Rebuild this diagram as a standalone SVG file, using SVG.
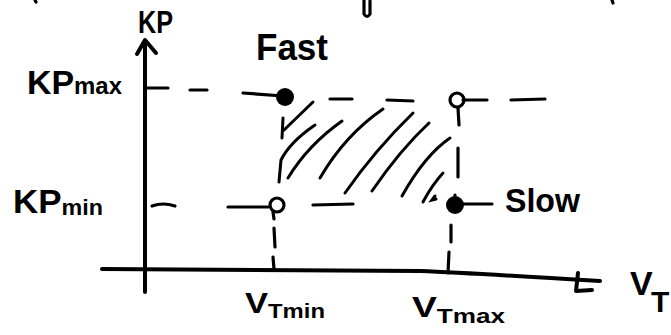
<svg xmlns="http://www.w3.org/2000/svg" width="671" height="335" viewBox="0 0 671 335">
<style>
.ax{fill:none;stroke:#000;stroke-width:4;stroke-linecap:round;stroke-linejoin:round}
.ln{fill:none;stroke:#000;stroke-width:3.2;stroke-linecap:round;stroke-linejoin:round}
.ht{fill:none;stroke:#000;stroke-width:3;stroke-linecap:round}
.dot{fill:#000;stroke:none}
.ring{fill:none;stroke:#000;stroke-width:3.2}
text{font-family:"Liberation Sans",Arial,sans-serif;font-weight:bold;fill:#000}
</style>
<rect width="671" height="335" fill="#fff"/>
<g id="fragments">
<path class="ln" d="M364,0 L364,14 Q367,19 370,14 L370,1"/>
<path class="ln" d="M35,0 L36,2"/>
<path class="ln" d="M612,0 L613,3"/>
</g>
<g id="axes">
<path class="ax" d="M145,292 L145,42"/>
<path class="ax" d="M137,54 L145,40 L156,53"/>
<path class="ax" d="M102,269 L420,271 Q470,273 600,281"/>
<path class="ax" d="M578,273 L576,291 L592,290"/>
<text x="138" y="33" font-size="31" textLength="35" lengthAdjust="spacingAndGlyphs">KP</text>
<text x="630" y="295" font-size="34">V<tspan x="651" y="312" font-size="30">T</tspan></text>
</g>
<g id="connectors">
<path class="ln" d="M145,88 L168,88"/>
<path class="ln" d="M190,90 L207,90"/>
<path class="ln" d="M243,93 L283,96"/>
<path class="ln" d="M330,99 L352,99"/>
<path class="ln" d="M387,100 L413,101"/>
<path class="ln" d="M463,100 L487,100"/>
<path class="ln" d="M511,100 L545,99"/>
<path class="ln" d="M152,206 Q163,202 175,206"/>
<path class="ln" d="M228,207 L268,207"/>
<path class="ln" d="M313,205 L353,204"/>
<path class="ln" d="M463,204 L492,204"/>
<path class="ln" d="M273,212 L274,219"/>
<path class="ln" d="M274,228 L275,247"/>
<path class="ln" d="M273,257 L274,269"/>
<path class="ln" d="M458,108 L459,125"/>
<path class="ln" d="M458,148 L458,177"/>
<path class="ln" d="M455,195 L455,200"/>
<path class="ln" d="M451,225 L451,242"/>
<path class="ln" d="M449,252 L448,273"/>
</g>
<g id="region">
<path class="ht" d="M313,102 L284,130"/>
<path class="ht" d="M283,118 L282,138"/>
<path class="ht" d="M315,125 Q290,142 281,160 L279,182"/>
<path class="ht" d="M342,121 Q308,145 288,178"/>
<path class="ht" d="M383,109 Q345,135 320,178"/>
<path class="ht" d="M413,113 Q375,150 345,193"/>
<path class="ht" d="M429,123 Q400,150 372,191"/>
<path class="ht" d="M450,138 Q425,155 402,196"/>
<path class="ht" d="M443,173 Q432,185 423,202"/>
<path class="ht" d="M435,196 L432,200 L436,199"/>
</g>
<g id="fast">
<circle class="dot" cx="285" cy="97" r="9"/>
<text x="256" y="60" font-size="36" textLength="72" lengthAdjust="spacingAndGlyphs">Fast</text>
</g>
<g id="corner-max">
<circle class="ring" cx="457" cy="100" r="7"/>
</g>
<g id="corner-min">
<circle class="ring" cx="277" cy="205" r="7"/>
</g>
<g id="slow">
<circle class="dot" cx="455" cy="205" r="9"/>
<text x="505" y="212" font-size="34" textLength="75" lengthAdjust="spacingAndGlyphs">Slow</text>
</g>
<g id="labels">
<text x="27" y="94" font-size="34" textLength="95" lengthAdjust="spacingAndGlyphs">KP<tspan font-size="24">max</tspan></text>
<text x="13" y="213" font-size="33" textLength="90" lengthAdjust="spacingAndGlyphs">KP<tspan font-size="22" dy="2">min</tspan></text>
<text x="245" y="313" font-size="29" textLength="80" lengthAdjust="spacingAndGlyphs">V<tspan font-size="20" dy="5">Tmin</tspan></text>
<text x="412" y="317" font-size="30" textLength="93" lengthAdjust="spacingAndGlyphs">V<tspan font-size="21" dy="6">Tmax</tspan></text>
</g>
</svg>
